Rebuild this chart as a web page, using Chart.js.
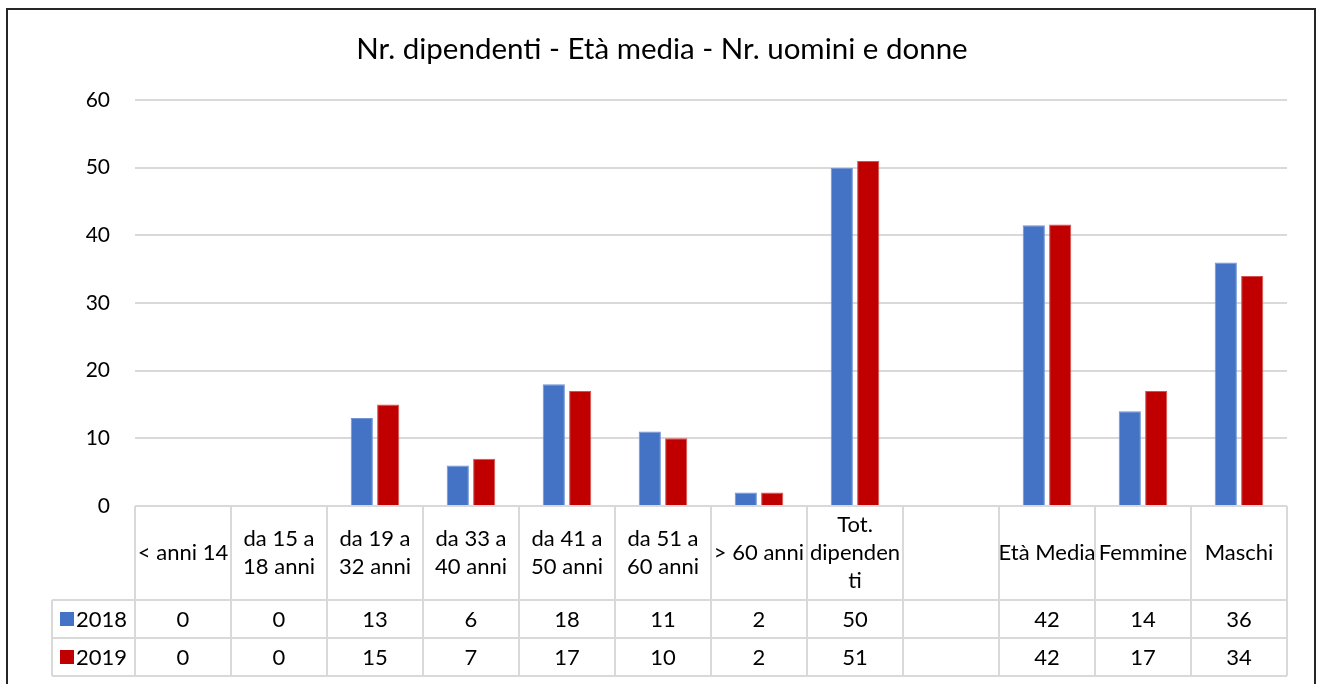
<!DOCTYPE html>
<html>
<head>
<meta charset="utf-8">
<script src="https://cdn.jsdelivr.net/npm/chart.js@4.4.0/dist/chart.umd.min.js"></script>
<style>
  html, body { margin: 0; padding: 0; background: #fff; }
  #wrap { width: 1317px; height: 684px; }
</style>
</head>
<body>
<div id="wrap"><canvas id="ageChart" width="1317" height="684"></canvas></div>
<script>
// categories (header cells of the data table, already split in lines)
const categories = [
  ['< anni 14'],
  ['da 15 a', '18 anni'],
  ['da 19 a', '32 anni'],
  ['da 33 a', '40 anni'],
  ['da 41 a', '50 anni'],
  ['da 51 a', '60 anni'],
  ['> 60 anni'],
  ['Tot.', 'dipenden', 'ti'],
  [''],
  ['Età Media'],
  ['Femmine'],
  ['Maschi']
];
const seriesNames = ['2018', '2019'];
const values2018 = [0, 0, 13, 6, 18, 11, 2, 50, null, 41.5, 14, 36];
const values2019 = [0, 0, 15, 7, 17, 10, 2, 51, null, 41.6, 17, 34];
const yTicks = [0, 10, 20, 30, 40, 50, 60];

const FONT = 'Lato';
const GRID = '#d9d9d9';

// data table under the plot + outer frame
const dataTablePlugin = {
  id: 'dataTable',
  afterDraw(chart) {
    const ctx = chart.ctx;
    const area = chart.chartArea;
    const x = chart.scales.x;
    const n = categories.length;
    const colW = (area.right - area.left) / n;
    const top = area.bottom;
    const headH = 94, rowH = 38;
    const legendLeft = 52;

    ctx.save();
    ctx.strokeStyle = GRID;
    ctx.lineWidth = 2;
    ctx.beginPath();
    // horizontal lines
    ctx.moveTo(area.left, top); ctx.lineTo(area.right, top);
    for (let r = 1; r <= 3; r++) {
      const yy = top + headH + (r - 1) * rowH;
      ctx.moveTo(legendLeft, yy); ctx.lineTo(area.right, yy);
    }
    // vertical lines
    for (let i = 0; i <= n; i++) {
      const xx = area.left + i * colW;
      ctx.moveTo(xx, top); ctx.lineTo(xx, top + headH + 2 * rowH);
    }
    ctx.moveTo(legendLeft, top + headH); ctx.lineTo(legendLeft, top + headH + 2 * rowH);
    ctx.stroke();

    ctx.fillStyle = '#000';
    ctx.font = '22px ' + FONT;
    ctx.textAlign = 'center';
    ctx.textBaseline = 'middle';
    const lineH = 28;
    categories.forEach((lines, i) => {
      const cx = x.getPixelForValue(i);
      const cy = top + headH / 2;
      lines.forEach((t, k) => {
        ctx.fillText(t, cx, cy + (k - (lines.length - 1) / 2) * lineH);
      });
    });

    const rows = [values2018, values2019];
    rows.forEach((vals, r) => {
      const cy = top + headH + r * rowH + rowH / 2;
      const ds = chart.data.datasets[r];
      // legend key
      ctx.fillStyle = ds.backgroundColor;
      ctx.fillRect(60, cy - 7, 14, 14);
      ctx.fillStyle = '#000';
      ctx.textAlign = 'left';
      ctx.fillText(seriesNames[r], 76, cy + 1);
      ctx.textAlign = 'center';
      vals.forEach((v, i) => {
        if (v === null) return;
        ctx.fillText(String(Math.round(v)), x.getPixelForValue(i), cy + 1);
      });
    });

    // chart frame
    ctx.strokeStyle = '#262626';
    ctx.lineWidth = 2;
    ctx.strokeRect(7, 9, 1308, 700);
    ctx.restore();
  }
};

new Chart(document.getElementById('ageChart'), {
  type: 'bar',
  data: {
    labels: categories.map(c => c.join(' ')),
    datasets: [{
      label: seriesNames[0],
      data: values2018,
      backgroundColor: '#4472C4',
      borderColor: '#6f93d6',
      borderWidth: 1,
      categoryPercentage: 0.55,
      barPercentage: 0.84
    }, {
      label: seriesNames[1],
      data: values2019,
      backgroundColor: '#C00000',
      borderColor: '#d65050',
      borderWidth: 1,
      categoryPercentage: 0.55,
      barPercentage: 0.84
    }]
  },
  options: {
    responsive: false,
    animation: false,
    layout: { padding: { left: 37, right: 30, top: 0, bottom: 178 } },
    plugins: {
      legend: { display: false },
      tooltip: { enabled: false },
      title: {
        display: true,
        text: 'Nr. dipendenti - Età media - Nr. uomini e donne',
        color: '#000',
        font: { family: FONT, size: 29.5, weight: 'normal' },
        padding: { top: 32, bottom: 32.6 }
      }
    },
    scales: {
      x: {
        display: false,
        grid: { display: false }
      },
      y: {
        min: yTicks[0],
        max: yTicks[yTicks.length - 1],
        afterFit: scale => { scale.width = 98; },
        afterBuildTicks: scale => { scale.ticks = yTicks.map(v => ({ value: v })); },
        border: { display: false },
        grid: { color: GRID, lineWidth: 2, drawTicks: false },
        ticks: {
          padding: 25,
          color: '#000',
          font: { family: FONT, size: 21 }
        }
      }
    }
  },
  plugins: [dataTablePlugin]
});
</script>
</body>
</html>
